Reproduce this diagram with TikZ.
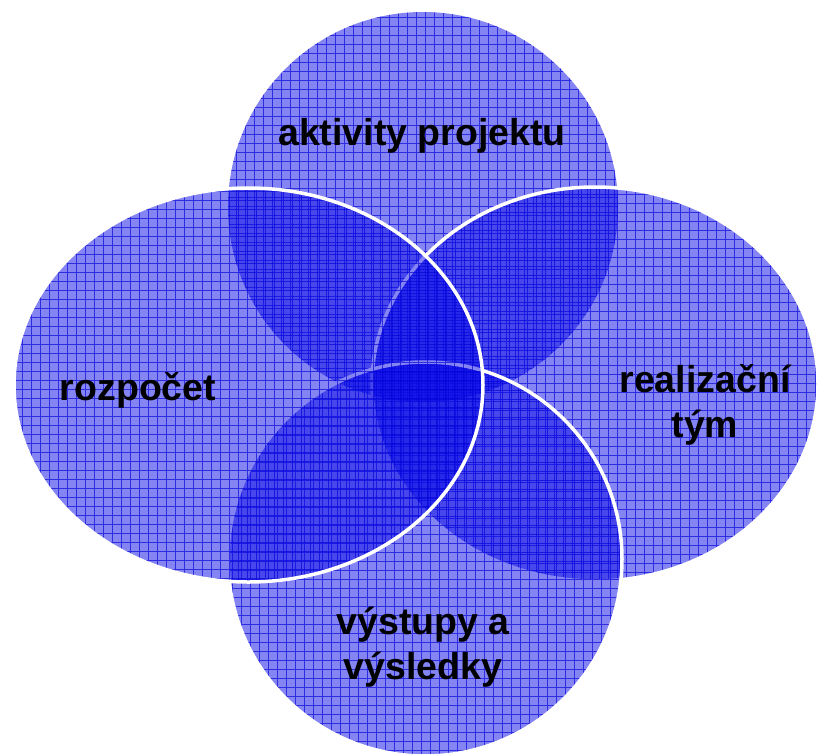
\documentclass[tikz,border=0pt]{standalone}
\usepackage{fontspec}
\setmainfont{Liberation Sans}
\definecolor{vblue}{RGB}{10,10,230}
\definecolor{gblue}{RGB}{0,0,215}
\begin{document}
\begin{tikzpicture}[x=1pt,y=-1pt,
  shapefill/.style={fill=vblue, fill opacity=0.5},
  gridlines/.style={draw=gblue, line width=1pt, draw opacity=0.65},
  rim/.style={draw=white, line width=3.5pt},
  lbl/.style={font=\bfseries\fontsize{37.5}{45}\selectfont, text=black, align=center, inner sep=0pt, anchor=base}]
\useasboundingbox (0,0) rectangle (817,753);
% top circle
\begin{scope}
  \fill[shapefill] (423,207) circle[radius=195];
  \clip (423,207) circle[radius=195];
  \draw[gridlines, step=9pt, shift={(2pt,1pt)}] (-18,-18) grid (840,780);
\end{scope}
% right ellipse
\begin{scope}
  \fill[shapefill] (595,384) ellipse[x radius=223, y radius=197];
  \begin{scope}
    \clip (595,384) ellipse[x radius=223, y radius=197];
    \draw[gridlines, step=9pt, shift={(5pt,4pt)}] (-18,-18) grid (840,780);
  \end{scope}
  \draw[rim] (595,384) ellipse[x radius=223, y radius=197];
\end{scope}
% bottom circle
\begin{scope}
  \fill[shapefill] (425,559) circle[radius=197];
  \begin{scope}
    \clip (425,559) circle[radius=197];
    \draw[gridlines, step=9pt, shift={(7pt,6pt)}] (-18,-18) grid (840,780);
  \end{scope}
  \draw[rim] (425,559) circle[radius=197];
\end{scope}
% left ellipse
\begin{scope}
  \fill[shapefill] (248.5,385) ellipse[x radius=234.5, y radius=197];
  \begin{scope}
    \clip (248.5,385) ellipse[x radius=234.5, y radius=197];
    \draw[gridlines, step=9pt, shift={(4pt,7pt)}] (-18,-18) grid (840,780);
  \end{scope}
  \draw[rim] (248.5,385) ellipse[x radius=234.5, y radius=197];
\end{scope}
% labels
\node[lbl] (aktivity) at (422,145) {aktivity projektu};
\node[lbl] (rozpocet) at (138,400) {rozpočet};
\node[lbl] (tym) at (705,437) {realizační\\tým};
\node[lbl] (vystupy) at (423,679) {výstupy a\\výsledky};
\end{tikzpicture}
\end{document}
